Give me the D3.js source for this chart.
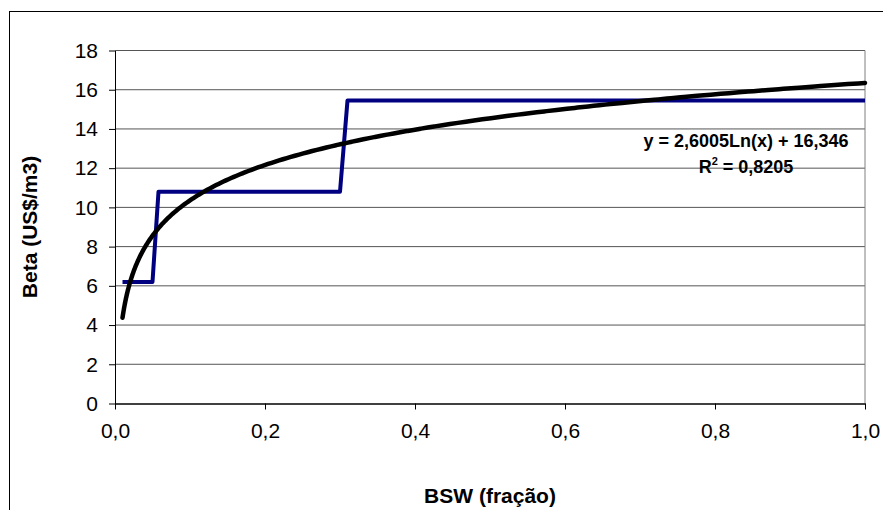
<!DOCTYPE html>
<html>
<head>
<meta charset="utf-8">
<script src="https://cdn.jsdelivr.net/npm/d3@7"></script>
<style>
    body { margin: 0; background: #fff; }
    text { font-family: "Liberation Sans", Arial, sans-serif; }
</style>
</head>
<body>
<div id="chart"></div>
<script>
// Step series (BSW fraction -> Beta)
const bsw = [0.01, 0.05, 0.058, 0.30, 0.31, 1.0];
const beta = [6.2, 6.2, 10.8, 10.8, 15.45, 15.45];

// Logarithmic trendline as printed on the chart
const trendA = 2.6005;
const trendB = 16.346;
const trendFrom = 0.01, trendTo = 1.0;

const xTicks = [0, 0.2, 0.4, 0.6, 0.8, 1.0];
const yTicks = [0, 2, 4, 6, 8, 10, 12, 14, 16, 18];

const eqLabel = "y = 2,6005Ln(x) + 16,346";
const r2Label = "0,8205";

const W = 883, H = 510;
const margin = {top: 50.5, right: 18, bottom: 106.5, left: 115};
const width = W - margin.left - margin.right,
      height = H - margin.top - margin.bottom;

const svg = d3.select("#chart")
    .append("svg")
    .attr("width", W)
    .attr("height", H);

// outer chart frame (runs off the right and bottom)
svg.append("rect")
    .attr("x", 9.5).attr("y", 11.5)
    .attr("width", W + 20).attr("height", H + 20)
    .attr("fill", "none")
    .attr("stroke", "#000");

const g = svg.append("g")
    .attr("transform", `translate(${margin.left},${margin.top})`);

const xScale = d3.scaleLinear().domain([0, 1]).range([0, width]);
const yScale = d3.scaleLinear().domain([0, 18]).range([height, 0]);

const comma = v => d3.format(".1f")(v).replace(".", ",");

// gridlines
g.append("g")
    .selectAll("line")
    .data(yTicks.filter(d => d > 0))
    .join("line")
    .attr("x1", 0).attr("x2", width)
    .attr("y1", d => yScale(d)).attr("y2", d => yScale(d))
    .attr("stroke", "#555")
    .attr("stroke-width", 1);

// plot border right side
g.append("line")
    .attr("x1", width).attr("x2", width)
    .attr("y1", 0).attr("y2", height)
    .attr("stroke", "#808080");

// axes
const xAxis = d3.axisBottom(xScale).tickValues(xTicks).tickFormat(comma).tickSize(6).tickSizeOuter(0).tickPadding(14);
const yAxis = d3.axisLeft(yScale).tickValues(yTicks).tickFormat(d3.format("d")).tickSize(6).tickSizeOuter(0).tickPadding(11);

g.append("g")
    .attr("class", "y-axis")
    .call(yAxis)
    .call(a => a.select(".domain").attr("stroke", "#000"))
    .call(a => a.selectAll("text").attr("font-size", 21).attr("fill", "#000"));

g.append("g")
    .attr("class", "x-axis")
    .attr("transform", `translate(0,${height})`)
    .call(xAxis)
    .call(a => a.select(".domain").attr("stroke", "#000").attr("stroke-width", 1.5))
    .call(a => a.selectAll("text").attr("font-size", 21).attr("fill", "#000"));

// trendline
const trendData = d3.range(0, 201).map(i => {
    const x = trendFrom * Math.pow(trendTo / trendFrom, i / 200);
    return [x, trendA * Math.log(x) + trendB];
});

const line = d3.line()
    .x(d => xScale(d[0]))
    .y(d => yScale(d[1]));

// step series
g.append("path")
    .datum(bsw.map((x, i) => [x, beta[i]]))
    .attr("d", line)
    .attr("fill", "none")
    .attr("stroke", "#000080")
    .attr("stroke-width", 4)
    .attr("stroke-linejoin", "round");

g.append("path")
    .datum(trendData)
    .attr("d", line.curve(d3.curveMonotoneX))
    .attr("fill", "none")
    .attr("stroke", "#000")
    .attr("stroke-width", 4.5)
    .attr("stroke-linecap", "round");

// equation labels
const eq = g.append("text")
    .attr("x", 746 - margin.left)
    .attr("y", 147 - margin.top)
    .attr("text-anchor", "middle")
    .attr("font-size", 18)
    .attr("font-weight", "bold")
    .attr("fill", "#000")
    .text(eqLabel);

const r2 = g.append("text")
    .attr("x", 746 - margin.left)
    .attr("y", 173 - margin.top)
    .attr("text-anchor", "middle")
    .attr("font-size", 18)
    .attr("font-weight", "bold")
    .attr("fill", "#000");
r2.append("tspan").text("R");
r2.append("tspan").attr("font-size", 11).attr("dy", -8).text("2");
r2.append("tspan").attr("dy", 8).text(" = " + r2Label);

// axis titles
svg.append("text")
    .attr("x", 490)
    .attr("y", 503)
    .attr("text-anchor", "middle")
    .attr("font-size", 21)
    .attr("font-weight", "bold")
    .text("BSW (fração)");

svg.append("text")
    .attr("transform", `translate(37,${margin.top + height / 2}) rotate(-90)`)
    .attr("text-anchor", "middle")
    .attr("font-size", 21)
    .attr("font-weight", "bold")
    .text("Beta (US$/m3)");
</script>
</body>
</html>
